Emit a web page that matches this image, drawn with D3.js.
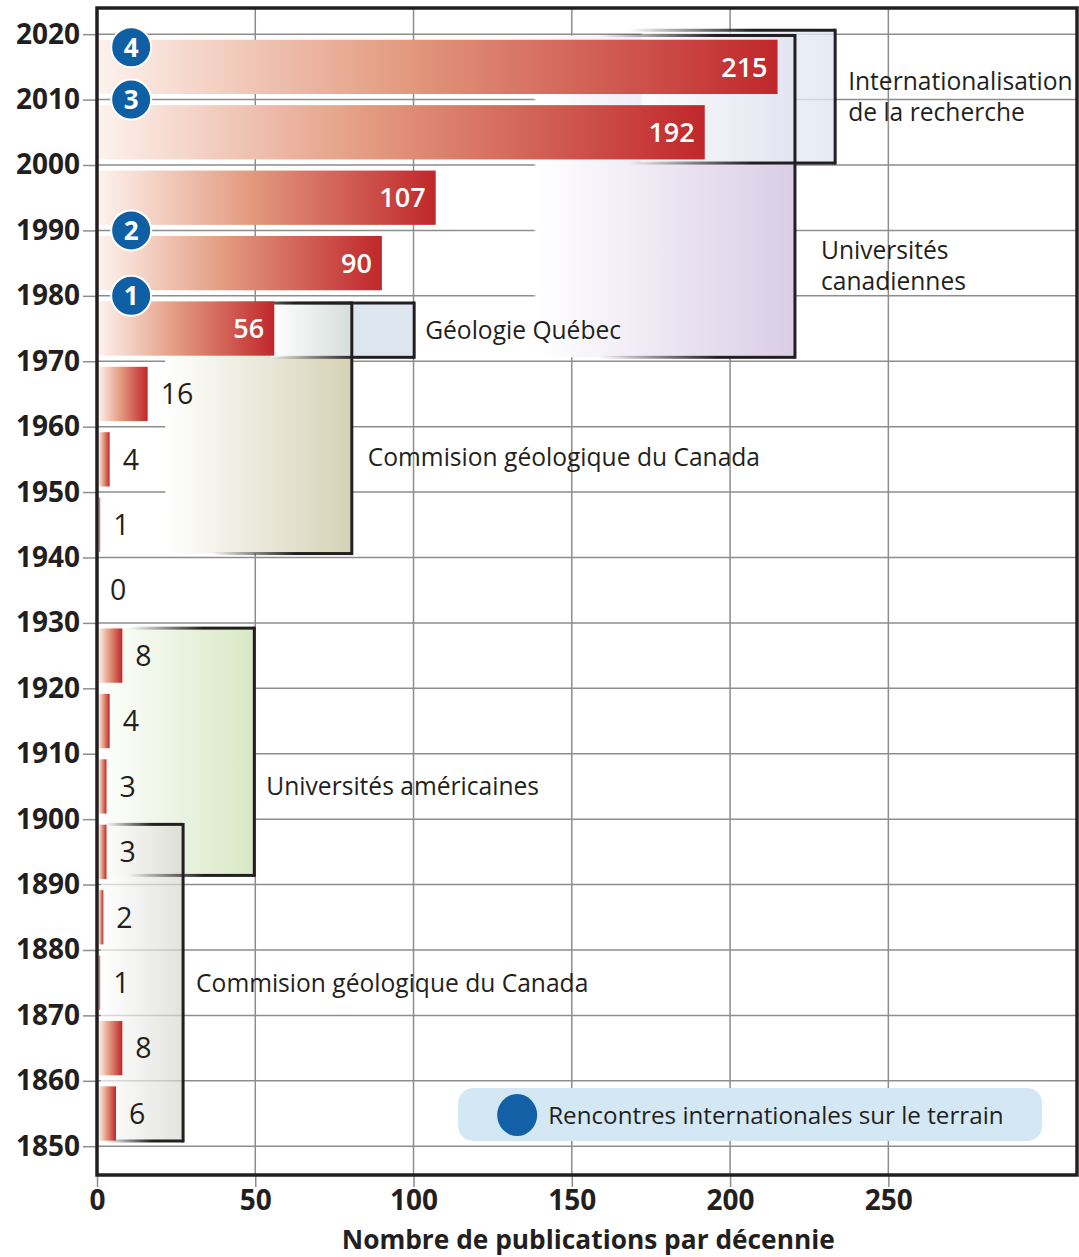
<!DOCTYPE html>
<html>
<head>
<meta charset="utf-8">
<script src="https://cdn.jsdelivr.net/npm/d3@7/dist/d3.min.js"></script>
<style>
  body { margin: 0; background: #fff; }
  svg { display: block; }
  text { font-family: "Open Sans", "Noto Sans", sans-serif; fill: #231f20; }
</style>
</head>
<body>
<svg id="chart" width="1079" height="1257"></svg>
<script>
// publications per decade (decade start year -> count)
const decades = [1850, 1860, 1870, 1880, 1890, 1900, 1910, 1920, 1930, 1940, 1950, 1960, 1970, 1980, 1990, 2000, 2010]
const publications = [6, 8, 1, 2, 3, 3, 4, 8, 0, 1, 4, 16, 56, 90, 107, 192, 215]

const yearTicks = [1850, 1860, 1870, 1880, 1890, 1900, 1910, 1920, 1930, 1940, 1950, 1960, 1970, 1980, 1990, 2000, 2010, 2020]
const pubTicks = [0, 50, 100, 150, 200, 250]

// international field meetings
const meetingYears = [1980, 1990, 2010, 2018]
const meetingNums = ['1', '2', '3', '4']

// research periods (boxes): year span and reach along the publication axis
const periodIds = ['uc', 'ir', 'cgc2', 'gq', 'ua', 'cgc1']
const periodStart = [1970.6, 2000.3, 1940.6, 1970.6, 1891.4, 1850.8]
const periodEnd = [2019.8, 2020.6, 1978.9, 1978.9, 1929.2, 1899.2]
const periodReach = [220.5, 233.2, 80.5, 100.2, 49.7, 27.2]
const periodLabels = [
  ['Universités', 'canadiennes'],
  ['Internationalisation', 'de la recherche'],
  ['Commision géologique du Canada'],
  ['Géologie Québec'],
  ['Universités américaines'],
  ['Commision géologique du Canada']
]
const periodLabelYear = [1984.6, 2010.45, 1955.3, 1974.75, 1905.1, 1875]

const legendText = 'Rencontres internationales sur le terrain'
const axisTitle = 'Nombre de publications par décennie'

// styles for each period box
const periodStyle = {
  uc: { color: '#dacde6', fillFrom: 0.63, opacity: 1, edgeFrom: 0.72, dx: 26 },
  ir: { color: '#dce6f1', fillFrom: 0.74, opacity: 0.8, edgeFrom: 0.72, dx: 13 },
  cgc2: { color: '#d6d2b6', fillFrom: 0.27, opacity: 1, edgeFrom: 0.45, dx: 16 },
  gq: { color: '#dee6ef', fillFrom: 0.55, opacity: 1, edgeFrom: 0.55, dx: 11, mid: '#d6dfdc' },
  ua: { color: '#d8e8c5', fillFrom: 0.0, opacity: 1, edgeFrom: 0.2, dx: 12 },
  cgc1: { color: '#d6d6d0', fillFrom: 0.05, opacity: 0.7, edgeFrom: 0.1, dx: 13 }
}

const W = 1079, H = 1257
const margin = { top: 8, right: 2, bottom: 82, left: 97 }
const innerW = W - margin.left - margin.right
const innerH = H - margin.top - margin.bottom

const svg = d3.select('#chart')
const defs = svg.append('defs')

const x = d3.scaleLinear().domain([0, 309.6]).range([0, innerW])
const y = d3.scaleLinear().domain([1845.6, 2024.0]).range([innerH, 0])

const g = svg.append('g').attr('transform', `translate(${margin.left},${margin.top})`)

// bar gradient
let barGrad = defs.append('linearGradient').attr('id', 'barGrad')
barGrad.append('stop').attr('offset', 0).attr('stop-color', '#fdf2ed')
barGrad.append('stop').attr('offset', 0.45).attr('stop-color', '#e39a7f')
barGrad.append('stop').attr('offset', 1).attr('stop-color', '#c0272b')

// grid
g.append('g').attr('class', 'hgrid')
  .selectAll('line').data(yearTicks).enter()
  .append('line')
    .attr('x1', 0).attr('x2', innerW)
    .attr('y1', d => y(d)).attr('y2', d => y(d))
    .attr('stroke', '#8d8d8d').attr('stroke-width', 1.5)

g.append('g').attr('class', 'vgrid')
  .selectAll('line').data(pubTicks.filter(d => d > 0)).enter()
  .append('line')
    .attr('x1', d => x(d)).attr('x2', d => x(d))
    .attr('y1', 0).attr('y2', innerH)
    .attr('stroke', '#8d8d8d').attr('stroke-width', 1.5)

// period boxes
let periods = periodIds.map((id, i) => ({
  id: id,
  y0: periodStart[i],
  y1: periodEnd[i],
  reach: periodReach[i],
  lines: periodLabels[i],
  labelYear: periodLabelYear[i],
  style: periodStyle[id]
}))

periods.forEach(function (p) {
  let s = p.style
  let fg = defs.append('linearGradient').attr('id', 'fill-' + p.id)
  fg.append('stop').attr('offset', 0).attr('stop-color', '#fff').attr('stop-opacity', s.fillFrom > 0 ? 0 : s.opacity)
  fg.append('stop').attr('offset', Math.max(0, s.fillFrom - 0.005)).attr('stop-color', '#fff').attr('stop-opacity', s.fillFrom > 0 ? 0 : s.opacity)
  fg.append('stop').attr('offset', s.fillFrom).attr('stop-color', '#fff').attr('stop-opacity', s.opacity)
  if (s.mid) {
    // darker band up to the neighbouring box edge, then flat colour
    fg.append('stop').attr('offset', 0.8).attr('stop-color', s.mid).attr('stop-opacity', s.opacity)
    fg.append('stop').attr('offset', 0.805).attr('stop-color', s.color).attr('stop-opacity', s.opacity)
  }
  fg.append('stop').attr('offset', 1).attr('stop-color', s.color).attr('stop-opacity', s.opacity)

  let eg = defs.append('linearGradient').attr('id', 'edge-' + p.id)
  eg.append('stop').attr('offset', 0).attr('stop-color', '#231f20').attr('stop-opacity', 0)
  eg.append('stop').attr('offset', s.edgeFrom).attr('stop-color', '#231f20').attr('stop-opacity', 0)
  eg.append('stop').attr('offset', s.edgeFrom + 0.6 * (1 - s.edgeFrom)).attr('stop-color', '#231f20').attr('stop-opacity', 1)
  eg.append('stop').attr('offset', 1).attr('stop-color', '#231f20').attr('stop-opacity', 1)
})

let boxes = g.append('g').attr('class', 'periods')
  .selectAll('g.period').data(periods).enter()
  .append('g')
    .attr('class', 'period')

boxes.append('rect')
  .attr('x', 0)
  .attr('y', p => y(p.y1))
  .attr('width', p => x(p.reach))
  .attr('height', p => y(p.y0) - y(p.y1))
  .attr('fill', p => `url(#fill-${p.id})`)

let edges = g.append('g').attr('class', 'period-edges')
  .selectAll('g').data(periods).enter()
  .append('g')

edges.append('rect')
  .attr('x', 0).attr('y', p => y(p.y1) - 1.5)
  .attr('width', p => x(p.reach)).attr('height', 3)
  .attr('fill', p => `url(#edge-${p.id})`)
edges.append('rect')
  .attr('x', 0).attr('y', p => y(p.y0) - 1.5)
  .attr('width', p => x(p.reach)).attr('height', 3)
  .attr('fill', p => `url(#edge-${p.id})`)
edges.append('line')
  .attr('x1', p => x(p.reach)).attr('x2', p => x(p.reach))
  .attr('y1', p => y(p.y1) - 1.5).attr('y2', p => y(p.y0) + 1.5)
  .attr('stroke', '#231f20').attr('stroke-width', 3)

// bars
let rows = decades.map((d, i) => ({ decade: d, value: publications[i] }))

g.append('g').attr('class', 'bars')
  .selectAll('rect').data(rows.filter(r => r.value > 0)).enter()
  .append('rect')
    .attr('x', x(0) + 1.5)
    .attr('y', r => y(r.decade + 9.15))
    .attr('width', r => Math.max(1.5, x(r.value) - x(0) - 1.5))
    .attr('height', r => y(r.decade + 0.85) - y(r.decade + 9.15))
    .attr('fill', 'url(#barGrad)')

g.append('g').attr('class', 'bar-labels')
  .selectAll('text').data(rows).enter()
  .append('text')
    .attr('x', r => r.value >= 50 ? x(r.value) - 10 : x(r.value) + 13)
    .attr('y', r => y(r.decade + 5))
    .attr('dy', '0.36em')
    .attr('text-anchor', r => r.value >= 50 ? 'end' : 'start')
    .style('fill', r => r.value >= 50 ? '#fff' : '#231f20')
    .style('font-weight', r => r.value >= 50 ? 600 : 500)
    .style('font-size', r => r.value >= 50 ? '27px' : '28.5px')
    .text(r => r.value)

// period labels
let plabels = g.append('g').attr('class', 'period-labels')
  .selectAll('text').data(periods).enter()
  .append('text')
    .attr('x', p => x(p.reach) + p.style.dx)
    .attr('y', p => y(p.labelYear) - (p.lines.length - 1) * 15.5)
    .style('font-size', '24.6px')

plabels.selectAll('tspan').data(p => p.lines.map(t => ({ t: t, p: p }))).enter()
  .append('tspan')
    .attr('x', d => x(d.p.reach) + d.p.style.dx)
    .attr('dy', (d, i) => i === 0 ? '0.36em' : '31px')
    .text(d => d.t)

// meeting markers
let meetings = g.append('g').attr('class', 'meetings')
  .selectAll('g').data(meetingYears.map((yr, i) => ({ year: yr, n: meetingNums[i] }))).enter()
  .append('g')
    .attr('transform', d => `translate(${x(10.8)},${y(d.year)})`)

meetings.append('circle')
  .attr('r', 20)
  .attr('fill', '#0f5fa5')
  .attr('stroke', '#fff').attr('stroke-width', 2)
meetings.append('text')
  .attr('text-anchor', 'middle')
  .attr('dy', '0.36em')
  .style('fill', '#fff')
  .style('font-weight', 700)
  .style('font-size', '26px')
  .text(d => d.n)

// legend
let legend = g.append('g').attr('class', 'legend')
  .attr('transform', `translate(${x(114.1)},${y(1858.9)})`)
legend.append('rect')
  .attr('width', 584).attr('height', 53).attr('rx', 15)
  .attr('fill', '#d3e8f4')
legend.append('ellipse')
  .attr('cx', 59).attr('cy', 27).attr('rx', 20).attr('ry', 21)
  .attr('fill', '#1460a6')
legend.append('text')
  .attr('x', 90).attr('y', 27).attr('dy', '0.36em')
  .style('font-size', '24.2px')
  .text(legendText)

// axes
let yAxis = g.append('g').attr('class', 'y-axis')
  .call(d3.axisLeft(y).tickValues(yearTicks).tickSize(14).tickPadding(3).tickFormat(d3.format('d')))
yAxis.select('.domain').remove()
yAxis.selectAll('.tick line').attr('stroke', '#8d8d8d').attr('stroke-width', 1.5)
yAxis.selectAll('.tick text')
  .style('font-size', '28px').style('font-weight', 700)
  .style('font-family', '"Open Sans", sans-serif').style('fill', '#231f20')

let xAxis = g.append('g').attr('class', 'x-axis')
  .attr('transform', `translate(0,${innerH})`)
  .call(d3.axisBottom(x).tickValues(pubTicks).tickSize(12).tickPadding(3))
xAxis.select('.domain').remove()
xAxis.selectAll('.tick line').attr('stroke', '#8d8d8d').attr('stroke-width', 1.5)
xAxis.selectAll('.tick text')
  .style('font-size', '28px').style('font-weight', 700)
  .style('font-family', '"Open Sans", sans-serif').style('fill', '#231f20')

g.append('text')
  .attr('x', x(155.2)).attr('y', innerH + 65)
  .attr('dy', '0.36em')
  .attr('text-anchor', 'middle')
  .style('font-size', '26.3px').style('font-weight', 700)
  .text(axisTitle)

// frame
g.append('rect')
  .attr('x', 0).attr('y', 0)
  .attr('width', innerW).attr('height', innerH)
  .attr('fill', 'none')
  .attr('stroke', '#231f20').attr('stroke-width', 3.5)
</script>
</body>
</html>
